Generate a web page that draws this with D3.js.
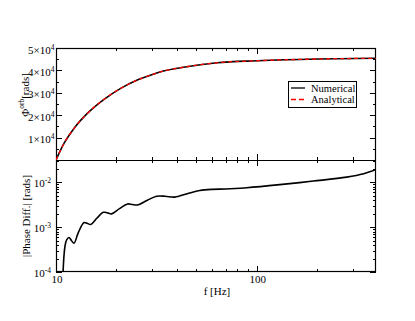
<!DOCTYPE html>
<html>
<head>
<meta charset="utf-8">
<script src="https://cdn.jsdelivr.net/npm/d3@7"></script>
<style>
  body { margin: 0; background: #fff; }
  text { font-family: "Liberation Serif", "DejaVu Serif", serif; fill: #000; }
</style>
</head>
<body>
<svg id="svg" width="415" height="321"></svg>
<script>
// orbital phase
const phiFreq = [10, 10.96, 12.29, 14.32, 17.35, 21.0, 25.4, 30.8, 34.3, 43.1, 63.3, 100, 200, 392];
const phiVals = [0, 7400, 14100, 20800, 27100, 32000, 35700, 38400, 39700, 41400, 43400, 44300, 45100, 45400];

// |phase diff|
const diffFreq = [10.82, 10.95, 11.1, 11.3, 11.6, 11.95, 12.3, 12.9, 13.8, 14.3, 14.9, 16.0, 17.2, 18.0, 18.9, 20.7, 22.7, 24.0, 25.4, 28.5, 31.7, 35, 39, 45, 52, 60, 70, 89, 130, 191, 280, 340, 392];
const diffVals = [8e-5, 2.2e-4, 3.9e-4, 5.2e-4, 5.9e-4, 5.0e-4, 4.4e-4, 7.5e-4, 1.27e-3, 1.22e-3, 1.15e-3, 1.6e-3, 2.15e-3, 2.1e-3, 1.98e-3, 2.6e-3, 3.3e-3, 3.2e-3, 3.13e-3, 4.0e-3, 4.9e-3, 4.9e-3, 4.7e-3, 5.6e-3, 6.6e-3, 7.0e-3, 7.1e-3, 7.6e-3, 8.9e-3, 1.07e-2, 1.31e-2, 1.56e-2, 1.95e-2];

const topTicks = [1e4, 2e4, 3e4, 4e4, 5e4];
const topLabels = ["1", "2", "3", "4", "5"];
const botTicks = [1e-4, 1e-3, 1e-2];
const botLabels = ["-4", "-3", "-2"];
const xTicks = [10, 100];
const xLabels = ["10", "100"];
const legendNames = ["Numerical", "Analytical"];

const svg = d3.select("#svg");
const L = 56, R = 376, T = 48, M = 160, B = 272;
const fs = 11;

const x = d3.scaleLog().domain([10, 392]).range([L, R]);
const yTop = d3.scaleLinear().domain([0, 5e4]).range([M, T]);
const yBot = d3.scaleLog().domain([1e-4, 0.0316]).range([B, M]);

const defs = svg.append("defs");
defs.append("clipPath").attr("id", "clipTop")
  .append("rect").attr("x", L).attr("y", T).attr("width", R - L).attr("height", M - T);
defs.append("clipPath").attr("id", "clipBot")
  .append("rect").attr("x", L).attr("y", M).attr("width", R - L).attr("height", B - M);

// minor ticks
const xMinor = [];
[10, 100].forEach(d => { for (let k = 2; k <= 9; k++) if (d * k <= 392) xMinor.push(d * k); });
const yBotMinor = [];
[1e-4, 1e-3, 1e-2].forEach(d => { for (let k = 2; k <= 9; k++) if (d * k <= 0.0316) yBotMinor.push(d * k); });
const yTopMinor = d3.range(5000, 50000, 10000);

const g = svg.append("g").attr("stroke", "#000").attr("stroke-width", 1);
const maj = 6, mnr = 3;

function hTicks(vals, scale, len) {
  vals.forEach(v => {
    const y = Math.round(scale(v)) + 0.5;
    g.append("line").attr("x1", L).attr("x2", L + len).attr("y1", y).attr("y2", y);
    g.append("line").attr("x1", R).attr("x2", R - len).attr("y1", y).attr("y2", y);
  });
}
function vTicks(vals, y0, y1, len) {
  vals.forEach(v => {
    const xx = Math.round(x(v)) + 0.5;
    g.append("line").attr("x1", xx).attr("x2", xx).attr("y1", y0).attr("y2", y0 + len);
    g.append("line").attr("x1", xx).attr("x2", xx).attr("y1", y1).attr("y2", y1 - len);
  });
}
hTicks(topTicks, yTop, maj);
hTicks(yTopMinor, yTop, mnr);
hTicks(botTicks, yBot, maj);
hTicks(yBotMinor, yBot, mnr);
vTicks(xTicks, T, M, maj);
vTicks(xMinor, T, M, mnr);
vTicks(xTicks, M, B, maj);
vTicks(xMinor, M, B, mnr);

// frames
g.append("rect").attr("x", L + 0.5).attr("y", T + 0.5).attr("width", R - L - 1).attr("height", B - T - 1)
  .attr("fill", "none").attr("stroke-width", 1.2);
g.append("line").attr("x1", L).attr("x2", R).attr("y1", M + 0.5).attr("y2", M + 0.5).attr("stroke-width", 1.2);

// curves
const phiData = phiFreq.map((f, i) => [f, phiVals[i]]);
const diffData = diffFreq.map((f, i) => [f, diffVals[i]]);
const lineTop = d3.line().x(d => x(d[0])).y(d => yTop(d[1])).curve(d3.curveMonotoneX);
const lineBot = d3.line().x(d => x(d[0])).y(d => yBot(d[1])).curve(d3.curveCatmullRom.alpha(0.5));

svg.append("path").attr("d", lineTop(phiData)).attr("clip-path", "url(#clipTop)")
  .attr("fill", "none").attr("stroke", "#000").attr("stroke-width", 1.6);
svg.append("path").attr("d", lineTop(phiData)).attr("clip-path", "url(#clipTop)")
  .attr("fill", "none").attr("stroke", "#ff0000").attr("stroke-width", 1.3).attr("stroke-dasharray", "4,3");
svg.append("path").attr("d", lineBot(diffData)).attr("clip-path", "url(#clipBot)")
  .attr("fill", "none").attr("stroke", "#000").attr("stroke-width", 1.6);

// tick labels: base text plus a separate superscript text
function supLabel(xEnd, yBase, base, sup) {
  const s = svg.append("text").attr("y", yBase - 4).attr("font-size", 7.5).text(sup);
  const sw = s.node().getComputedTextLength();
  s.attr("x", xEnd - sw);
  svg.append("text").attr("x", xEnd - sw).attr("y", yBase).attr("text-anchor", "end")
    .attr("font-size", fs).text(base);
}
topTicks.forEach((v, i) => supLabel(54.5, yTop(v) + 5.5, topLabels[i] + "×10", "4"));
botTicks.forEach((v, i) => supLabel(51, yBot(v) + 5, "10", botLabels[i]));

xTicks.forEach((v, i) => {
  svg.append("text").attr("x", x(v) + 1).attr("y", 283).attr("text-anchor", "middle")
    .attr("font-size", fs).text(xLabels[i]);
});

// axis titles
svg.append("text").attr("x", (L + R) / 2 + 1).attr("y", 295).attr("text-anchor", "middle")
  .attr("font-size", fs).text("f [Hz]");

// top title, laid out piece by piece in a rotated group
const tg = svg.append("g").attr("transform", "translate(29,95) rotate(-90)");
const p1 = tg.append("text").attr("font-size", fs).text("Φ");
const p2 = tg.append("text").attr("font-size", 7.5).text("orb");
const p3 = tg.append("text").attr("font-size", fs).text(" [rads]");
const w1 = p1.node().getComputedTextLength();
const w2 = p2.node().getComputedTextLength();
const w3 = p3.node().getComputedTextLength();
const x0 = -(w1 + w2 + w3) / 2;
p1.attr("x", x0).attr("y", 0);
p2.attr("x", x0 + w1).attr("y", -5);
p3.attr("x", x0 + w1 + w2).attr("y", 0);

svg.append("g").attr("transform", "translate(30,216) rotate(-90)")
  .append("text").attr("text-anchor", "middle").attr("font-size", fs).text("|Phase Diff.| [rads]");

// legend
const lg = svg.append("g");
lg.append("rect").attr("x", 288.5).attr("y", 81.5).attr("width", 68).attr("height", 26)
  .attr("fill", "#fff").attr("stroke", "#000").attr("stroke-width", 1);
legendNames.forEach((name, i) => {
  const yy = 88 + i * 11.5;
  lg.append("line").attr("x1", 291).attr("x2", 305).attr("y1", yy).attr("y2", yy)
    .attr("stroke", i === 0 ? "#000" : "#ff0000").attr("stroke-width", 1.3)
    .attr("stroke-dasharray", i === 0 ? null : "5,3");
  lg.append("text").attr("x", 311).attr("y", yy + 3.5).attr("font-size", 10.5).text(name);
});
</script>
</body>
</html>
